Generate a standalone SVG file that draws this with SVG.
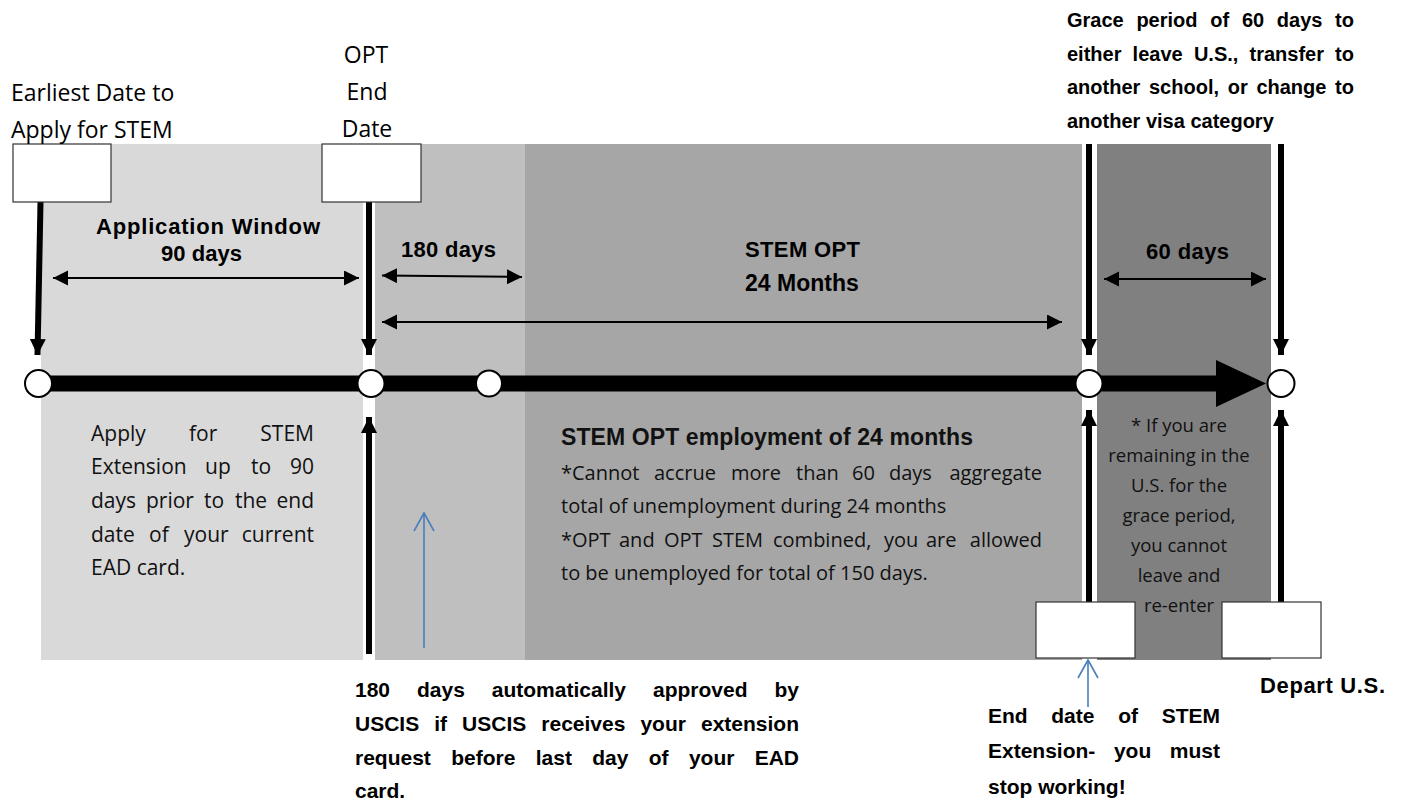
<svg xmlns="http://www.w3.org/2000/svg" width="1402" height="812" viewBox="0 0 1402 812">
<style>
text{font-family:"Open Sans","Liberation Sans",sans-serif;fill:#000}
.lbl{font-size:23px}
.b21,.b22,.g20,.h23{font-family:"Liberation Sans",Arial,sans-serif;font-weight:bold}
.b21{font-size:21px}
.b22{font-size:22px}
.g20{font-size:20px}
.h23{font-size:23px;fill:#111}
.r21{font-size:21px;fill:#111}
.r20{font-size:20px;fill:#111}
.n18{font-size:18.5px;fill:#111;text-anchor:middle}
.mid{text-anchor:middle}
.box{fill:#fff;stroke:#333;stroke-width:1.2}
.dbl{stroke:#000;stroke-width:2;fill:none;marker-start:url(#ah);marker-end:url(#ah)}
.vert{stroke:#000;stroke-width:6;fill:none;marker-end:url(#av)}
.blue{stroke:#4a7ebb;stroke-width:1.6;fill:none;marker-end:url(#ab)}
.dot{fill:#fff;stroke:#000;stroke-width:2}
</style>
<defs>
<marker id="ah" markerUnits="userSpaceOnUse" markerWidth="16" markerHeight="16" refX="15" refY="7.5" orient="auto-start-reverse"><path d="M0,0 L15,7.5 L0,15 z" fill="#000"/></marker>
<marker id="av" markerUnits="userSpaceOnUse" markerWidth="18" markerHeight="18" refX="16" refY="8" orient="auto"><path d="M0,0 L16,8 L0,16 z" fill="#000"/></marker>
<marker id="ab" markerUnits="userSpaceOnUse" markerWidth="22" markerHeight="24" refX="19" refY="11" orient="auto"><path d="M1,1 L19,11 L1,21" fill="none" stroke="#4a7ebb" stroke-width="1.6"/></marker>
</defs>
<rect width="1402" height="812" fill="#fff"/>
<g id="panels">
<rect x="41" y="144" width="322" height="516" fill="#d9d9d9"/>
<rect x="375" y="144" width="150" height="516" fill="#bfbfbf"/>
<rect x="525" y="144" width="557" height="516" fill="#a6a6a6"/>
<rect x="1097" y="144" width="174" height="516" fill="#808080"/>
</g>
<g id="connectors">
<line x1="38" y1="383.5" x2="1218" y2="383.5" stroke="#000" stroke-width="16"/>
<polygon points="1216,360 1266,383.5 1216,407" fill="#000"/>
<line class="vert" x1="40.5" y1="202" x2="37.5" y2="355"/>
<line class="vert" x1="369" y1="202" x2="369" y2="355"/>
<line class="vert" x1="1089" y1="144" x2="1089" y2="355"/>
<line class="vert" x1="1281" y1="144" x2="1281" y2="355"/>
<line class="vert" x1="369" y1="654" x2="369" y2="417"/>
<line class="vert" x1="1089" y1="602" x2="1089" y2="410"/>
<line class="vert" x1="1281" y1="602" x2="1281" y2="410"/>
<line class="dbl" x1="53" y1="278" x2="359" y2="278"/>
<line class="dbl" x1="382" y1="275.5" x2="522" y2="277"/>
<line class="dbl" x1="382" y1="322" x2="1062" y2="322"/>
<line class="dbl" x1="1104" y1="279" x2="1266" y2="279"/>
<line class="blue" x1="424" y1="648" x2="424" y2="513"/>
<line class="blue" x1="1088" y1="707" x2="1088" y2="660"/>
</g>
<g id="dots">
<circle class="dot" cx="38.5" cy="383.5" r="13.5"/>
<circle class="dot" cx="371" cy="383.5" r="13.5"/>
<circle class="dot" cx="489" cy="383.5" r="13"/>
<circle class="dot" cx="1089" cy="383.5" r="13.5"/>
<circle class="dot" cx="1281" cy="383.5" r="13.5"/>
</g>
<g id="node-earliest">
<rect class="box" x="13" y="144" width="98" height="58"/>
<text class="lbl" x="11" y="101">Earliest Date to</text>
<text class="lbl" x="11" y="138">Apply for STEM</text>
</g>
<g id="node-opt-end">
<rect class="box" x="322" y="144" width="99" height="58"/>
<text class="lbl mid" x="366" y="63">OPT</text>
<text class="lbl mid" x="367" y="100">End</text>
<text class="lbl mid" x="367" y="137">Date</text>
</g>
<g id="node-application-window">
<text class="b22" x="96" y="234" textLength="224" lengthAdjust="spacing">Application Window</text>
<text class="b22" x="161" y="261" textLength="81" lengthAdjust="spacing">90 days</text>
<text class="r21" y="441"><tspan x="91">Apply</tspan><tspan x="189">for</tspan><tspan x="314" text-anchor="end">STEM</tspan></text>
<text class="r21" y="474"><tspan x="91">Extension</tspan><tspan x="205">up</tspan><tspan x="251">to</tspan><tspan x="314" text-anchor="end">90</tspan></text>
<text class="r21" y="508"><tspan x="91">days</tspan><tspan x="146">prior</tspan><tspan x="204">to</tspan><tspan x="235">the</tspan><tspan x="314" text-anchor="end">end</tspan></text>
<text class="r21" y="542"><tspan x="91">date</tspan><tspan x="149">of</tspan><tspan x="184">your</tspan><tspan x="314" text-anchor="end">current</tspan></text>
<text class="r21" x="91" y="575">EAD card.</text>
</g>
<g id="node-180-days">
<text class="b22" x="401" y="257" textLength="95" lengthAdjust="spacing">180 days</text>
<text class="b21" y="697"><tspan x="355">180</tspan><tspan x="417">days</tspan><tspan x="491.8">automatically</tspan><tspan x="653">approved</tspan><tspan x="799" text-anchor="end">by</tspan></text>
<text class="b21" y="731"><tspan x="355">USCIS</tspan><tspan x="434.2">if</tspan><tspan x="462.1">USCIS</tspan><tspan x="541.3">receives</tspan><tspan x="640.4">your</tspan><tspan x="799" text-anchor="end">extension</tspan></text>
<text class="b21" y="765"><tspan x="355">request</tspan><tspan x="451.2">before</tspan><tspan x="535.7">last</tspan><tspan x="592.2">day</tspan><tspan x="648.7">of</tspan><tspan x="688.9">your</tspan><tspan x="799" text-anchor="end">EAD</tspan></text>
<text class="b21" x="355" y="798">card.</text>
</g>
<g id="node-stem-opt">
<text class="b22" x="745" y="257" textLength="115" lengthAdjust="spacing">STEM OPT</text>
<text class="b22" x="745" y="291" style="font-size:23px">24 Months</text>
<text class="h23" x="561" y="445" textLength="412" lengthAdjust="spacing">STEM OPT employment of 24 months</text>
<text class="r20" y="480"><tspan x="561">*Cannot</tspan><tspan x="654">accrue</tspan><tspan x="731">more</tspan><tspan x="796">than</tspan><tspan x="852">60</tspan><tspan x="889">days</tspan><tspan x="1042" text-anchor="end">aggregate</tspan></text>
<text class="r20" x="561" y="513">total of unemployment during 24 months</text>
<text class="r20" y="547"><tspan x="561">*OPT</tspan><tspan x="619">and</tspan><tspan x="664">OPT</tspan><tspan x="712">STEM</tspan><tspan x="773">combined,</tspan><tspan x="884">you</tspan><tspan x="926">are</tspan><tspan x="1042" text-anchor="end">allowed</tspan></text>
<text class="r20" x="561" y="580">to be unemployed for total of 150 days.</text>
</g>
<g id="node-end-date">
<rect class="box" x="1036" y="602" width="99" height="56"/>
<text class="b21" y="723"><tspan x="988">End</tspan><tspan x="1051.3">date</tspan><tspan x="1118.2">of</tspan><tspan x="1220" text-anchor="end">STEM</tspan></text>
<text class="b21" y="758"><tspan x="988">Extension-</tspan><tspan x="1113.9">you</tspan><tspan x="1220" text-anchor="end">must</tspan></text>
<text class="b21" x="988" y="794">stop working!</text>
</g>
<g id="node-grace">
<text class="b22" x="1146" y="259" textLength="83" lengthAdjust="spacing">60 days</text>
<text class="g20" y="27"><tspan x="1067">Grace</tspan><tspan x="1136.4">period</tspan><tspan x="1210.3">of</tspan><tspan x="1241.9">60</tspan><tspan x="1276.8">days</tspan><tspan x="1354" text-anchor="end">to</tspan></text>
<text class="g20" y="61"><tspan x="1067">either</tspan><tspan x="1132.6">leave</tspan><tspan x="1193.9">U.S.,</tspan><tspan x="1249.5">transfer</tspan><tspan x="1354" text-anchor="end">to</tspan></text>
<text class="g20" y="94"><tspan x="1067">another</tspan><tspan x="1149">school,</tspan><tspan x="1227.7">or</tspan><tspan x="1256.4">change</tspan><tspan x="1354" text-anchor="end">to</tspan></text>
<text class="g20" x="1067" y="128">another visa category</text>
<text class="n18" x="1179" y="432">* If you are</text>
<text class="n18" x="1179" y="462">remaining in the</text>
<text class="n18" x="1179" y="492">U.S. for the</text>
<text class="n18" x="1179" y="522">grace period,</text>
<text class="n18" x="1179" y="552">you cannot</text>
<text class="n18" x="1179" y="582">leave and</text>
<text class="n18" x="1179" y="612">re-enter</text>
</g>
<g id="node-depart">
<rect class="box" x="1222" y="602" width="99" height="56"/>
<text class="b22" x="1260" y="693" textLength="125" lengthAdjust="spacing">Depart U.S.</text>
</g>
</svg>
